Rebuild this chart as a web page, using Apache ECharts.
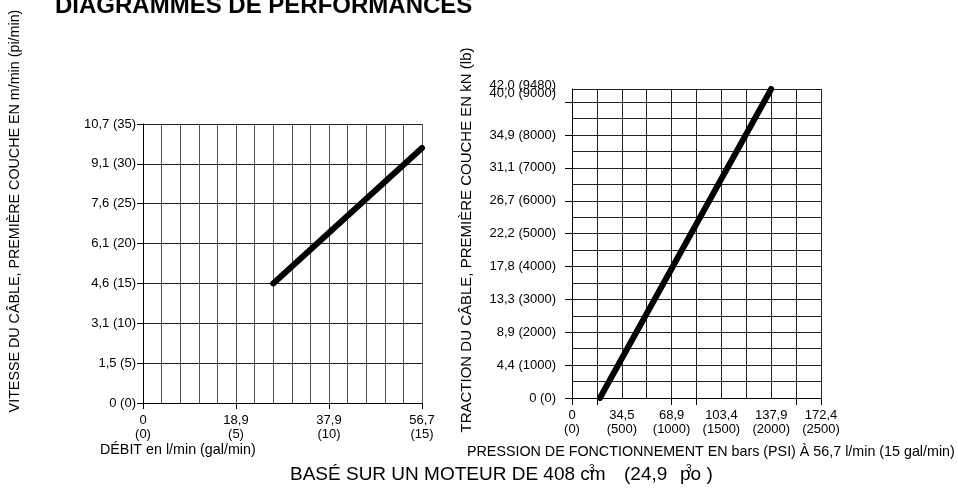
<!DOCTYPE html>
<html>
<head>
<meta charset="utf-8">
<script src="https://cdn.jsdelivr.net/npm/echarts@6/dist/echarts.min.js"></script>
<style>
html,body{margin:0;padding:0;background:#fff;}
#c{width:958px;height:489px;}
</style>
</head>
<body>
<div id="c"></div>
<script>
// ---- data ----
const flowLpm = ['0', '18,9', '37,9', '56,7'];
const flowGpm = [0, 5, 10, 15];
const speedMpm = ['0', '1,5', '3,1', '4,6', '6,1', '7,6', '9,1', '10,7'];
const speedFpm = [0, 5, 10, 15, 20, 25, 30, 35];
const speedLine = [[7, 15], [15, 32]]; // [gal/min, pi/min]

const pressureBar = ['0', '34,5', '68,9', '103,4', '137,9', '172,4'];
const pressurePsi = [0, 500, 1000, 1500, 2000, 2500];
const pressureTicks = [0, 250, 1000, 1250, 2250, 2500];
const pullKn = ['0', '4,4', '8,9', '13,3', '17,8', '22,2', '26,7', '31,1', '34,9', '40,0'];
const pullLb = [0, 1000, 2000, 3000, 4000, 5000, 6000, 7000, 8000, 9000];
const pullTopKn = '42,0', pullTopLb = 9480, pullAxisTop = 9400;
const pullLine = [[280, 0], [2000, 9400]]; // [PSI, lb]

const FONT = "'Liberation Sans', Arial, sans-serif";

const chart = echarts.init(document.getElementById('c'));
const labelBase = {color: '#000', fontFamily: FONT, fontSize: 13};

function gridAxis(gridIndex, min, max, interval, pos, color) {
  return {
    type: 'value', gridIndex, min, max, interval, position: pos,
    axisLine: {show: true, onZero: false, lineStyle: {color: '#000', width: 1}},
    axisTick: {show: false}, axisLabel: {show: false},
    splitLine: {show: true, lineStyle: {color: color, width: 1}}
  };
}
function labelAxis(gridIndex, min, max, pos, ticks, tickLen, labels, margin, lineHeight, fmt) {
  return {
    type: 'value', gridIndex, min, max, position: pos,
    axisLine: {show: false, onZero: false},
    splitLine: {show: false},
    axisTick: {show: true, length: tickLen, customValues: ticks, lineStyle: {color: '#000'}},
    axisLabel: Object.assign({}, labelBase, {margin, lineHeight, customValues: labels, formatter: fmt})
  };
}

chart.setOption({
  animation: false,
  backgroundColor: '#fff',
  grid: [
    {left: 143, top: 124, width: 279, height: 279},
    {left: 572, top: 89, width: 249, height: 309}
  ],
  xAxis: [
    gridAxis(0, 0, 15, 1, 'bottom', '#555'),
    labelAxis(0, 0, 15, 'bottom', flowGpm, 6, flowGpm, 10, 14,
      v => { const i = flowGpm.indexOf(v); return i < 0 ? '' : flowLpm[i] + '\n(' + flowGpm[i] + ')'; }),
    gridAxis(1, 0, 2500, 250, 'bottom', '#222'),
    labelAxis(1, 0, 2500, 'bottom', pressureTicks, 7, pressurePsi, 10, 14,
      v => { const i = pressurePsi.indexOf(v); return i < 0 ? '' : pressureBar[i] + '\n(' + pressurePsi[i] + ')'; })
  ],
  yAxis: [
    gridAxis(0, 0, 35, 5, 'left', '#222'),
    labelAxis(0, 0, 35, 'left', speedFpm, 6, speedFpm, 7, 14,
      v => { const i = speedFpm.indexOf(v); return i < 0 ? '' : speedMpm[i] + ' (' + speedFpm[i] + ')'; }),
    gridAxis(1, 0, pullAxisTop, 500, 'left', '#222'),
    labelAxis(1, 0, pullAxisTop, 'left', pullLb, 7, pullLb.slice(0, pullLb.length - 1).concat([pullAxisTop]), 16, 8,
      v => {
        if (v === pullAxisTop) return pullTopKn + ' (' + pullTopLb + ')\n' + pullKn[pullKn.length - 1] + ' (' + pullLb[pullLb.length - 1] + ')';
        const i = pullLb.indexOf(v); return i < 0 ? '' : pullKn[i] + ' (' + pullLb[i] + ')';
      })
  ],
  series: [
    {type: 'line', xAxisIndex: 0, yAxisIndex: 0, data: speedLine, showSymbol: false, silent: true,
     lineStyle: {color: '#000', width: 6, cap: 'round'}},
    {type: 'line', xAxisIndex: 2, yAxisIndex: 2, data: pullLine, showSymbol: false, silent: true,
     lineStyle: {color: '#000', width: 6, cap: 'round'}}
  ],
  graphic: [
    {type: 'text', x: 55, y: 6, style: {text: 'DIAGRAMMES DE PERFORMANCES', font: 'bold 24px ' + FONT, fill: '#000', verticalAlign: 'middle'}},
    {type: 'text', x: 15, y: 211, rotation: Math.PI / 2,
     style: {text: 'VITESSE DU CÂBLE, PREMIÈRE COUCHE EN m/min (pi/min)', font: '14.3px ' + FONT, fill: '#000', align: 'center', verticalAlign: 'middle'}},
    {type: 'text', x: 467, y: 240, rotation: Math.PI / 2,
     style: {text: 'TRACTION DU CÂBLE, PREMIÈRE COUCHE EN kN (lb)', font: '15px ' + FONT, fill: '#000', align: 'center', verticalAlign: 'middle'}},
    {type: 'text', x: 100, y: 450,
     style: {text: 'DÉBIT en l/min (gal/min)', font: '14.3px ' + FONT, fill: '#000', verticalAlign: 'middle'}},
    {type: 'text', x: 467, y: 452,
     style: {text: 'PRESSION DE FONCTIONNEMENT EN bars (PSI) À 56,7 l/min (15 gal/min)', font: '14.3px ' + FONT, fill: '#000', verticalAlign: 'middle'}},
    {type: 'text', x: 290, y: 474.5,
     style: {text: 'BASÉ SUR UN MOTEUR DE 408 cm', font: '19px ' + FONT, fill: '#000', verticalAlign: 'middle'}},
    {type: 'text', x: 624, y: 474.5,
     style: {text: '(24,9', font: '19px ' + FONT, fill: '#000', verticalAlign: 'middle'}},
    {type: 'text', x: 680, y: 474.5,
     style: {text: 'po )', font: '19px ' + FONT, fill: '#000', verticalAlign: 'middle'}},
    {type: 'text', x: 589, y: 469,
     style: {text: '3', font: '10px ' + FONT, fill: '#000', verticalAlign: 'middle'}},
    {type: 'text', x: 686, y: 469,
     style: {text: '3', font: '10px ' + FONT, fill: '#000', verticalAlign: 'middle'}}
  ]
});
</script>
</body>
</html>
